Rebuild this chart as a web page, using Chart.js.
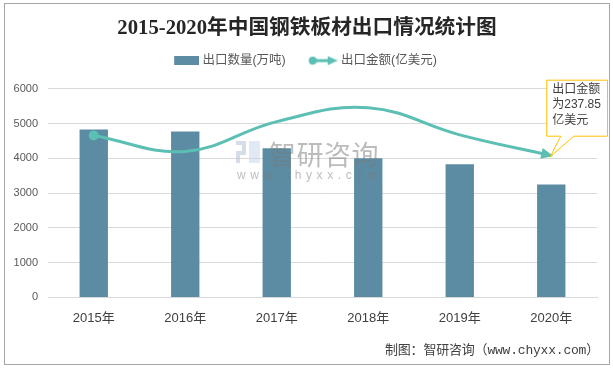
<!DOCTYPE html>
<html><head><meta charset="utf-8">
<script src="https://cdn.jsdelivr.net/npm/chart.js@4/dist/chart.umd.min.js"></script>
<style>
html,body{margin:0;padding:0;background:#fff;}
#wrap{position:relative;width:613px;height:368px;}
#c{position:absolute;left:0;top:0;}
#frame{position:absolute;left:4px;top:3px;width:604px;height:360px;border:1px solid #a6a6a6;pointer-events:none;}
#src{position:absolute;left:385px;top:339px;font:13px "Liberation Mono","Noto Sans CJK SC",monospace;color:#404040;white-space:nowrap;letter-spacing:-0.2px;}
#wm{position:absolute;left:236px;top:136px;pointer-events:none;opacity:0.5;}
#wm .logo{position:absolute;left:0;top:5px;width:24px;height:22px;}
#wm .logo span{position:absolute;background:#a9bcd3;}
#wm .t{position:absolute;left:33px;top:-2px;font:27px "Noto Sans CJK SC";color:#7a7a7a;white-space:nowrap;letter-spacing:0.5px;}
#wm .u{position:absolute;left:1px;top:32px;font:12px "Liberation Sans";color:#7a7a7a;white-space:nowrap;letter-spacing:4.6px;}
</style></head>
<body><div id="wrap">
<canvas id="c" width="613" height="368"></canvas>
<div id="wm"><div class="logo"><span style="left:0;top:0;width:10px;height:4px"></span><span style="left:6px;top:0;width:4px;height:14px"></span><span style="left:0;top:10px;width:10px;height:4px"></span><span style="left:0;top:10px;width:4px;height:12px"></span><span style="left:13px;top:0;width:11px;height:22px;background:#c3d6ea"></span></div><div class="t">智研咨询</div><div class="u">www.chyxx.com</div></div>
<div id="src">制图：智研咨询（www.chyxx.com）</div>
<div id="frame"></div>
</div>
<script>
const categories = ['2015年','2016年','2017年','2018年','2019年','2020年'];
const exportVolume = [4830, 4770, 4290, 4000, 3830, 3250];   // 出口数量(万吨)
const exportValue = [271.7, 245.0, 295.0, 318.3, 272.8, 237.85]; // 出口金额(亿美元)
const seriesNames = ['出口数量(万吨)', '出口金额(亿美元)'];
const yTicks = [0, 1000, 2000, 3000, 4000, 5000, 6000];
const calloutLines = ['出口金额', '为237.85', '亿美元'];

const barColor = '#5b8ca3';
const lineColor = '#5bbfb4';
const FONT = '"Liberation Sans","Noto Sans CJK SC",sans-serif';
const BOX_W = 28, CAN_W = 34;

function barSymbol(){
  const c = document.createElement('canvas'); c.width = CAN_W; c.height = 9;
  const g = c.getContext('2d'); g.fillStyle = barColor; g.fillRect(CAN_W-25,0,25,9); return c;
}
function lineSymbol(){
  const c = document.createElement('canvas'); c.width = CAN_W; c.height = 12;
  const g = c.getContext('2d'); const o = CAN_W - 30;
  g.strokeStyle = lineColor; g.fillStyle = lineColor; g.lineWidth = 3;
  g.beginPath(); g.moveTo(o+5,6); g.lineTo(o+22,6); g.stroke();
  g.beginPath(); g.arc(o+5,6,4,0,Math.PI*2); g.fill();
  g.beginPath(); g.moveTo(o+30,6); g.lineTo(o+20,1.5); g.lineTo(o+20,10.5); g.closePath(); g.fill();
  return c;
}

const decorPlugin = {
  id: 'decor',
  afterLayout(chart){ if (chart.titleBlock) chart.titleBlock.left += 9; },
  afterDatasetsDraw(chart){
    const ctx = chart.ctx;
    const meta = chart.getDatasetMeta(1);
    const n = meta.data.length;
    const p = meta.data[n-1];
    let dx = p.x - (p.cp1x ?? meta.data[n-2].x), dy = p.y - (p.cp1y ?? meta.data[n-2].y);
    const a = Math.atan2(dy, dx);
    ctx.save();
    ctx.translate(p.x, p.y); ctx.rotate(a);
    ctx.fillStyle = lineColor;
    ctx.beginPath(); ctx.moveTo(2,0); ctx.lineTo(-10,-5.5); ctx.lineTo(-10,5.5); ctx.closePath(); ctx.fill();
    ctx.restore();
    const L = p.x - 5, T = p.y - 76, R = 607, B = p.y - 20;
    ctx.save();
    ctx.fillStyle = '#fff'; ctx.strokeStyle = '#ffc000'; ctx.lineWidth = 1;
    ctx.beginPath();
    ctx.moveTo(L+0.5, T+0.5); ctx.lineTo(R+0.5, T+0.5); ctx.lineTo(R+0.5, B+0.5);
    ctx.lineTo(p.x+22.5, B+0.5); ctx.lineTo(p.x-1, p.y+1); ctx.lineTo(p.x+9.5, B+0.5);
    ctx.lineTo(L+0.5, B+0.5); ctx.closePath();
    ctx.fill(); ctx.stroke();
    ctx.fillStyle = '#404040'; ctx.font = '12px ' + FONT; ctx.textBaseline = 'middle'; ctx.textAlign = 'left';
    calloutLines.forEach((t,i)=> ctx.fillText(t, L+6, T+10+i*15.5));
    ctx.restore();
  }
};

new Chart(document.getElementById('c'), {
  data: {
    labels: categories,
    datasets: [
      { type: 'bar', label: seriesNames[0], data: exportVolume, backgroundColor: barColor,
        categoryPercentage: 1, barPercentage: 0.31, xAxisID: 'x', yAxisID: 'y', order: 2 },
      { type: 'line', label: seriesNames[1], data: exportValue, borderColor: lineColor,
        backgroundColor: lineColor, borderWidth: 3, tension: 0.4, xAxisID: 'x', yAxisID: 'y1', order: 1,
        pointRadius: c => c.dataIndex === 0 ? 5 : 0, pointHoverRadius: 0,
        pointBackgroundColor: lineColor, pointBorderWidth: 0 }
    ]
  },
  options: {
    responsive: false, animation: false, devicePixelRatio: 1,
    layout: { padding: { left: 8, right: 16, top: 0, bottom: 29 } },
    plugins: {
      title: { display: true, text: '2015-2020年中国钢铁板材出口情况统计图', color: '#262626',
        font: { family: '"Liberation Serif","Noto Sans CJK SC",serif', size: 20.7, weight: 'bold', lineHeight: 0.5 },
        padding: { top: 23, bottom: 0 } },
      legend: { display: true, position: 'top',
        labels: { usePointStyle: true, pointStyleWidth: BOX_W, padding: 21, color: '#595959',
          font: { family: FONT, size: 12.5 },
          generateLabels: chart => chart.data.datasets.map((d,i)=>({
            text: d.label, pointStyle: i === 0 ? barSymbol() : lineSymbol(),
            fontColor: '#595959', datasetIndex: i, hidden: false, lineWidth: 0, strokeStyle: 'transparent' })) } },
      tooltip: { enabled: false }
    },
    scales: {
      x: { position: 'bottom', grid: { display: false, drawTicks: false }, border: { color: '#d9d9d9', width: 1 },
        ticks: { color: '#404040', padding: 13, font: { family: FONT, size: 13 } } },
      xTop: { type: 'category', position: 'top', display: true,
        grid: { display: false, drawTicks: false }, border: { display: false }, ticks: { display: false },
        afterFit: s => { s.height = 12; } },
      y: { min: 0, max: 6000, afterBuildTicks: s => { s.ticks = yTicks.map(v => ({ value: v })); },
        afterFit: s => { s.width = 40; },
        grid: { color: '#d9d9d9', drawTicks: false }, border: { display: false },
        ticks: { color: '#595959', padding: 10, font: { family: FONT, size: 11 }, callback: v => String(v) } },
      y1: { display: false, min: 0, max: 350, position: 'right' }
    }
  },
  plugins: [decorPlugin]
});
</script>
</body></html>
